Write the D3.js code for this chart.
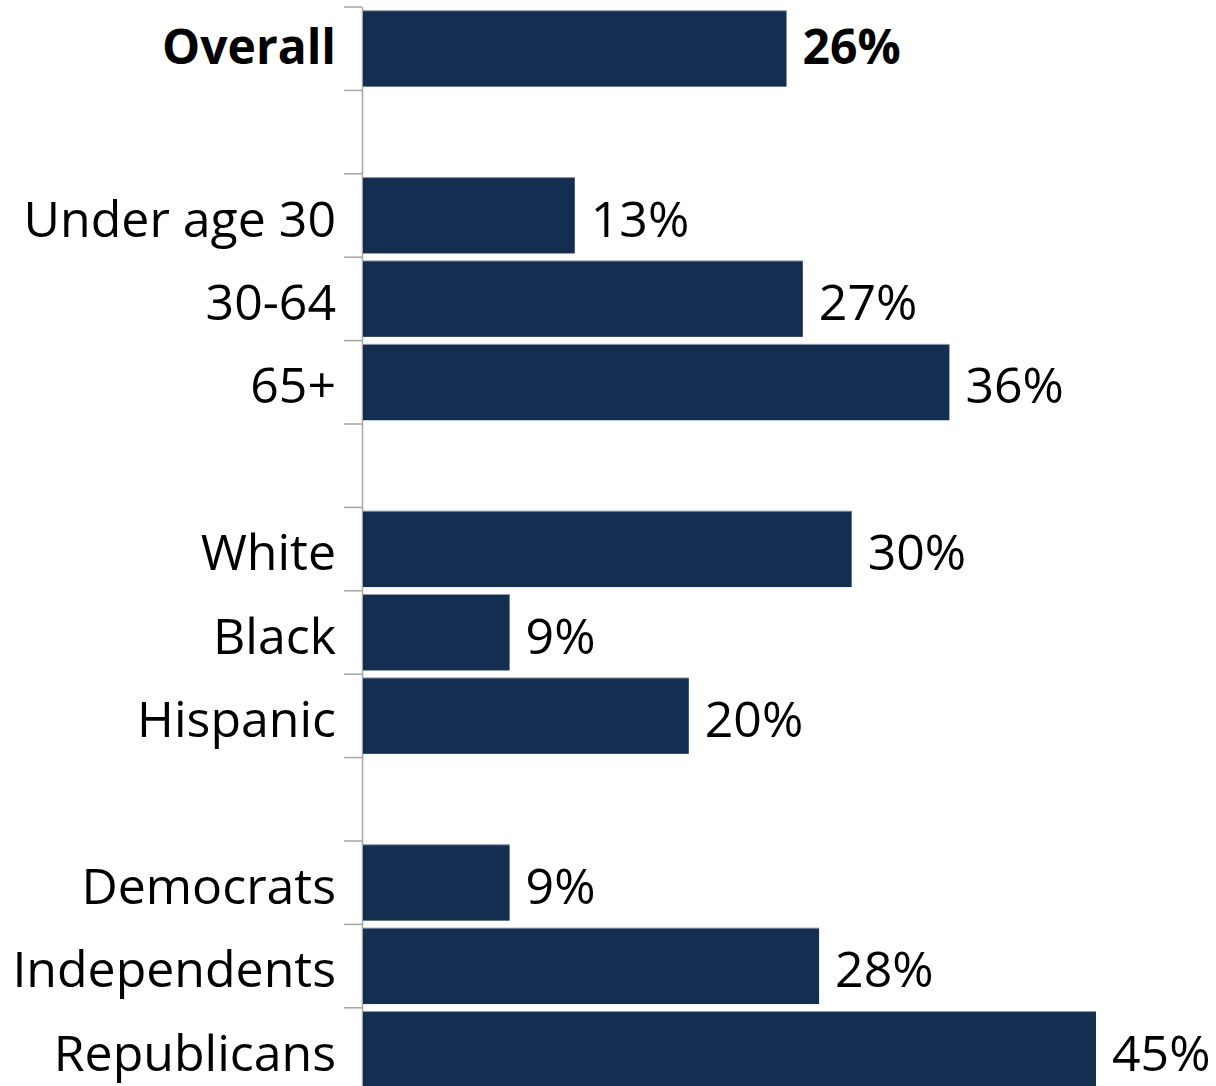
<!DOCTYPE html>
<html><head><meta charset="utf-8">
<script src="https://cdn.jsdelivr.net/npm/d3@7"></script>
<style>body{margin:0;background:#fff}svg{display:block}</style>
</head><body>
<script>
const categories = ["Overall", "", "Under age 30", "30-64", "65+", " ", "White", "Black", "Hispanic", "  ", "Democrats", "Independents", "Republicans"];
const values = [26, null, 13, 27, 36, null, 30, 9, 20, null, 9, 28, 45];
const boldCategories = ["Overall"];

const W = 1216, H = 1086;
const svg = d3.select("body").append("svg").attr("width", W).attr("height", H);
const x0 = 363;
const x = d3.scaleLinear().domain([0, 45]).range([x0, 1096]);
const y = d3.scaleBand().domain(categories).range([7, 7 + 83.4 * categories.length]).paddingInner(0.09).paddingOuter(0.045);

const font = "'Open Sans', 'Noto Sans', sans-serif";
const isBold = d => boldCategories.includes(d.c);

// axis
const ax = svg.append("g");
ax.append("line").attr("x1", 362.5).attr("x2", 362.5).attr("y1", 7).attr("y2", H).attr("stroke", "#a6a6a6").attr("stroke-width", 1.5);
const step = y.step();
d3.range(categories.length + 1).forEach(i => {
  const yy = 7 + i * step;
  ax.append("line").attr("x1", 344).attr("x2", 362).attr("y1", yy).attr("y2", yy).attr("stroke", "#a6a6a6").attr("stroke-width", 1.5);
});

const data = categories.map((c, i) => ({c, v: values[i]})).filter(d => d.v != null);

svg.selectAll("rect.bar").data(data).enter().append("rect")
  .attr("class", "bar")
  .attr("x", x(0))
  .attr("y", d => y(d.c))
  .attr("width", d => x(d.v) - x(0))
  .attr("height", y.bandwidth())
  .attr("fill", "#142e52");

svg.selectAll("rect.edge").data(data).enter().append("rect")
  .attr("x", x(0)).attr("y", d => y(d.c) - 0.5)
  .attr("width", d => x(d.v) - x(0)).attr("height", 1)
  .attr("fill", "#8d97a6");

const fs = d => isBold(d) ? 48 : 50;
const dyOff = d => isBold(d) ? 15 : 21;

svg.selectAll("text.cat").data(data).enter().append("text")
  .attr("x", 336)
  .attr("y", d => y(d.c) + y.bandwidth() / 2 + dyOff(d))
  .attr("text-anchor", "end")
  .attr("font-family", font)
  .attr("font-size", fs)
  .attr("font-weight", d => isBold(d) ? 700 : 400)
  .attr("fill", "#000")
  .text(d => d.c);

svg.selectAll("text.val").data(data).enter().append("text")
  .attr("x", d => x(d.v) + 16)
  .attr("y", d => y(d.c) + y.bandwidth() / 2 + dyOff(d))
  .attr("font-family", font)
  .attr("font-size", fs)
  .attr("font-weight", d => isBold(d) ? 700 : 400)
  .attr("fill", "#000")
  .text(d => d.v + "%");
</script>
</body></html>
